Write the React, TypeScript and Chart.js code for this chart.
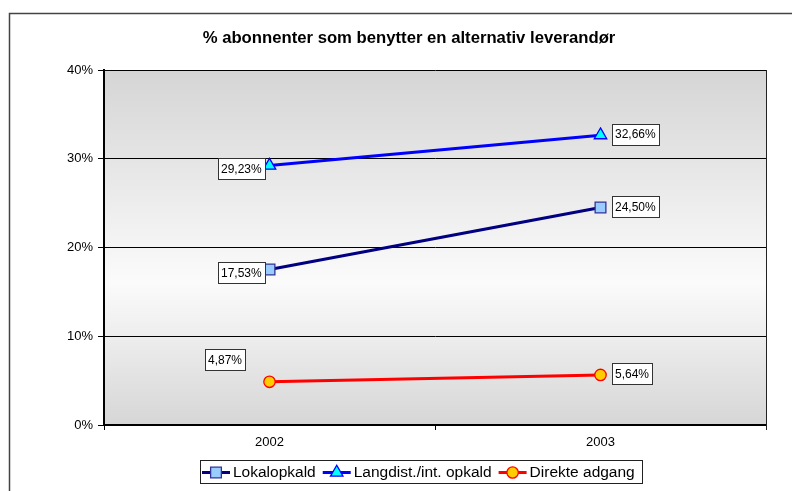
import React, { useEffect, useRef } from "react";
import { Chart, registerables } from "chart.js";

Chart.register(...registerables);

const TITLE = "% abonnenter som benytter en alternativ leverandør";
const CATEGORIES = ["2002", "2003"];
const SERIES_NAMES = ["Lokalopkald", "Langdist./int. opkald", "Direkte adgang"];
const LOKAL = [17.53, 24.5];
const LANGDIST = [29.23, 32.66];
const DIREKTE = [4.87, 5.64];
const Y_TICKS = [0, 10, 20, 30, 40];
// label placement relative to each point (style, not data)
const LABEL_PLACE = [
  ["left", "right"],
  ["left", "right"],
  ["aboveLeft", "right"],
];

const FONT = "'Liberation Sans', Arial, sans-serif";

function fmt(v: number) {
  return v.toFixed(2).replace(".", ",") + "%";
}

const STYLES = [
  { line: "#000080", fill: "#99ccff", border: "#333399", point: "rect", radius: 7.6 },
  { line: "#0000ff", fill: "#00ffff", border: "#0000ff", point: "triangle", radius: 7.2 },
  { line: "#ff0000", fill: "#ffcc00", border: "#ff0000", point: "circle", radius: 5.7 },
];

function drawMarker(ctx: CanvasRenderingContext2D, type: string, r: number, x: number, y: number) {
  ctx.beginPath();
  if (type === "rect") {
    const s = r * Math.SQRT1_2;
    ctx.rect(x - s, y - s, 2 * s, 2 * s);
  } else if (type === "triangle") {
    ctx.moveTo(x, y - r);
    ctx.lineTo(x + r * 0.866, y + r * 0.5);
    ctx.lineTo(x - r * 0.866, y + r * 0.5);
    ctx.closePath();
  } else {
    ctx.arc(x, y, r, 0, Math.PI * 2);
  }
  ctx.fill();
  ctx.stroke();
}

const chromePlugin = {
  id: "chrome",
  beforeDraw(chart: any) {
    const { ctx, chartArea: a } = chart;
    ctx.save();
    ctx.fillStyle = "#fff";
    ctx.fillRect(0, 0, chart.width, chart.height);
    // outer border
    ctx.strokeStyle = "#444";
    ctx.lineWidth = 1.5;
    ctx.beginPath();
    ctx.moveTo(9.5, chart.height + 2);
    ctx.lineTo(9.5, 13.5);
    ctx.lineTo(chart.width + 2, 13.5);
    ctx.stroke();
    // plot gradient
    const g = ctx.createLinearGradient(0, a.top, 0, a.bottom);
    g.addColorStop(0, "#d5d5d5");
    g.addColorStop(0.6, "#fbfbfb");
    g.addColorStop(1, "#d6d6d6");
    ctx.fillStyle = g;
    ctx.fillRect(a.left, a.top, a.right - a.left, a.bottom - a.top);
    // title
    ctx.fillStyle = "#000";
    ctx.font = `bold 16.7px ${FONT}`;
    ctx.textAlign = "center";
    ctx.textBaseline = "middle";
    ctx.fillText(TITLE, 409, 38);
    ctx.restore();
  },
  afterDraw(chart: any) {
    const { ctx, chartArea: a } = chart;
    ctx.save();
    // right border of plot
    ctx.strokeStyle = "#222";
    ctx.lineWidth = 1;
    ctx.beginPath();
    ctx.moveTo(Math.round(a.right) + 0.5, a.top);
    ctx.lineTo(Math.round(a.right) + 0.5, a.bottom + 5);
    ctx.stroke();

    // data labels
    ctx.font = `12px ${FONT}`;
    ctx.textBaseline = "middle";
    ctx.textAlign = "left";
    chart.data.datasets.forEach((ds: any, di: number) => {
      const meta = chart.getDatasetMeta(di);
      meta.data.forEach((pt: any, i: number) => {
        const txt = fmt(ds.data[i]);
        const w = ctx.measureText(txt).width + 6;
        const h = 21;
        const place = LABEL_PLACE[di][i];
        let left: number, cy: number;
        if (place === "left") {
          left = pt.x - 5 - w;
          cy = pt.y + 3;
        } else if (place === "right") {
          left = pt.x + 11;
          cy = pt.y - 1;
        } else {
          left = pt.x - 24 - w;
          cy = pt.y - 22;
        }
        const top = cy - h / 2;
        ctx.fillStyle = "#fff";
        ctx.fillRect(Math.round(left), Math.round(top), Math.round(w), h);
        ctx.strokeStyle = "#333";
        ctx.lineWidth = 1;
        ctx.strokeRect(Math.round(left) + 0.5, Math.round(top) + 0.5, Math.round(w), h);
        ctx.fillStyle = "#000";
        ctx.fillText(txt, Math.round(left) + 3, cy + 1);
      });
    });

    // legend
    ctx.font = `15.5px ${FONT}`;
    const lineW = 28;
    const widths = SERIES_NAMES.map((n) => ctx.measureText(n).width);
    const itemW = widths.map((w) => 2 + lineW + 3 + w + 5);
    const total = itemW.reduce((s, v) => s + v, 0) + 2;
    const bx = Math.round(421 - total / 2);
    const by = 460;
    const bh = 23;
    ctx.fillStyle = "#fff";
    ctx.fillRect(bx, by, total, bh);
    ctx.strokeStyle = "#222";
    ctx.strokeRect(bx + 0.5, by + 0.5, Math.round(total), bh);
    let x = bx + 2;
    const cy = by + bh / 2 + 1;
    SERIES_NAMES.forEach((n, k) => {
      const st = STYLES[k];
      ctx.strokeStyle = st.line;
      ctx.lineWidth = 3;
      ctx.beginPath();
      ctx.moveTo(x, cy);
      ctx.lineTo(x + lineW, cy);
      ctx.stroke();
      ctx.fillStyle = st.fill;
      ctx.strokeStyle = st.border;
      ctx.lineWidth = 1.3;
      drawMarker(ctx, st.point, st.radius, x + lineW / 2, cy);
      ctx.fillStyle = "#000";
      ctx.textAlign = "left";
      ctx.fillText(n, x + lineW + 3, cy);
      x += itemW[k];
    });
    ctx.restore();
  },
};

export default function App() {
  const ref = useRef<HTMLCanvasElement>(null);
  useEffect(() => {
    if (!ref.current) return;
    const data = [LOKAL, LANGDIST, DIREKTE];
    const chart = new Chart(ref.current, {
      type: "line",
      data: {
        labels: CATEGORIES,
        datasets: SERIES_NAMES.map((name, k) => ({
          label: name,
          data: data[k],
          borderColor: STYLES[k].line,
          borderWidth: 3,
          pointStyle: STYLES[k].point as any,
          pointRadius: STYLES[k].radius,
          pointBackgroundColor: STYLES[k].fill,
          pointBorderColor: STYLES[k].border,
          pointBorderWidth: 1.3,
          tension: 0,
        })),
      },
      options: {
        responsive: false,
        animation: false,
        events: [],
        layout: { padding: { left: 0, right: 26, top: 70, bottom: 0 } },
        plugins: { legend: { display: false }, title: { display: false }, tooltip: { enabled: false } },
        scales: {
          x: {
            type: "category",
            offset: true,
            grid: { drawOnChartArea: false, drawTicks: true, tickLength: 5, color: "#000", offset: true },
            border: { display: true, color: "#000", width: 2 },
            ticks: { color: "#000", font: { family: FONT, size: 13 }, padding: 5 },
            afterFit: (s: any) => {
              s.height = 66;
            },
          },
          y: {
            min: 0,
            max: 40,
            afterBuildTicks: (s: any) => {
              s.ticks = Y_TICKS.map((v) => ({ value: v }));
            },
            grid: { color: "#000", lineWidth: 1, tickLength: 6 },
            border: { display: true, color: "#000", width: 2 },
            ticks: {
              color: "#000",
              font: { family: FONT, size: 13 },
              padding: 5,
              callback: (v: any) => v + "%",
            },
            afterFit: (s: any) => {
              s.width = 104;
            },
          },
        },
      },
      plugins: [chromePlugin],
    });
    return () => chart.destroy();
  }, []);
  return (
    <div style={{ position: "absolute", left: 0, top: 0, width: 792, height: 491 }}>
      <canvas ref={ref} width={792} height={491} />
    </div>
  );
}
